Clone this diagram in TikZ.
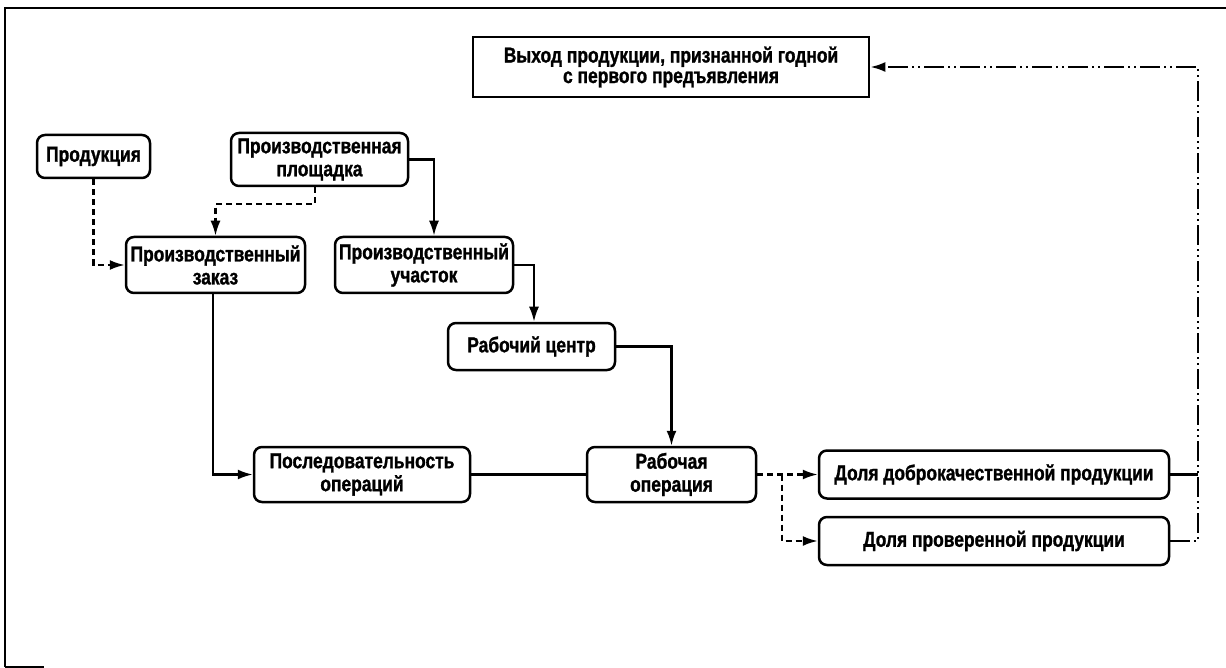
\documentclass[tikz,border=0pt]{standalone}
\usepackage{fontspec}
\setmainfont{Liberation Sans}[FakeStretch=0.81,BoldFeatures={FakeBold=1.2}]
\usetikzlibrary{arrows.meta,calc}
\begin{document}
\begin{tikzpicture}[x=1pt,y=-1pt,
  box/.style={draw,line width=2.5pt,rounded corners=8pt,align=center,inner sep=0pt,
    font=\fontsize{21.5}{23}\selectfont\bfseries},
  outbox/.style={draw,line width=2.8pt,align=center,inner sep=0pt,
    font=\fontsize{21.5}{20.5}\selectfont\bfseries},
  conn/.style={line width=2.2pt},
  arr/.style={conn,-{Latex[length=15pt,width=10pt]}},
  dsh/.style={dash pattern=on 6pt off 4pt},
  ddot/.style={dash pattern=on 20pt off 4pt on 2pt off 4pt on 2pt off 4pt}]
\useasboundingbox (0,0) rectangle (1226,668);
% frame
\draw[line width=2.5pt] (5,667) -- (5,8) -- (1226,8);
\draw[line width=1.8pt] (5,667) -- (44,667);
% nodes
\node[outbox,minimum width=396pt,minimum height=60pt] (out) at (671,67)
  {Выход продукции, признанной годной\\с первого предъявления};
\node[box,minimum width=113pt,minimum height=43pt] (prod) at (93.5,156.5) {Продукция};
\node[box,minimum width=177pt,minimum height=53pt] (site) at (319.5,159.5) {Производственная\\площадка};
\node[box,minimum width=179pt,minimum height=56pt] (order) at (215.5,265) {Производственный\\заказ};
\node[box,minimum width=178pt,minimum height=56pt] (area) at (424,265) {Производственный\\участок};
\node[box,minimum width=167pt,minimum height=47pt] (wc) at (531.5,346.5) {Рабочий центр};
\node[box,minimum width=216pt,minimum height=55pt] (seq) at (362,474.5) {Последовательность\\операций};
\node[box,minimum width=169pt,minimum height=55pt] (op) at (671.5,474.5) {Рабочая\\операция};
\node[box,minimum width=350pt,minimum height=48pt] (good) at (994,474.5) {Доля доброкачественной продукции};
\node[box,minimum width=350pt,minimum height=48pt] (checked) at (994,541) {Доля проверенной продукции};
% connectors
\draw[arr,dsh] (prod.south) |- (order.west);
\draw[arr,dsh] ([xshift=-4.5pt]site.south) -- ++(0,17) -| (order.north);
\draw[arr] (site.east) -| ([xshift=10pt]area.north);
\draw[arr] (area.east) -| ([xshift=2.5pt]wc.north);
\draw[arr] (wc.east) -| (op.north);
\draw[arr] ([xshift=-2.5pt]order.south) |- (seq.west);
\draw[conn] (seq.east) -- (op.west);
\draw[arr,dsh] (op.east) -- (good.west);
\coordinate (br) at ($(op.east)!0.41!(good.west)$);
\draw[arr,dsh] (br) |- (checked.west);
\coordinate (vr) at (1198,67);
\draw[arr,ddot] (checked.east) -| (vr) -- (out.east);
\draw[conn] (good.east) -- (good.east -| vr);
\end{tikzpicture}
\end{document}
